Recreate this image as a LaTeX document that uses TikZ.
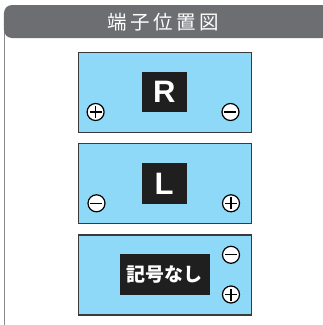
\documentclass[tikz,border=0pt]{standalone}
\usepackage{fontspec}
\setmainfont{Liberation Sans}
\newfontfamily\cjk{Noto Sans CJK JP}
\definecolor{hdr}{HTML}{6D6E71}
\definecolor{batt}{HTML}{8ED8F8}
\definecolor{edge}{HTML}{3A3A3C}
\tikzset{
  battbox/.style={draw=edge, line width=1.2pt, fill=batt, minimum width=173pt, minimum height=80pt, inner sep=0pt},
  label box/.style={fill=black!88, text=white, inner sep=0pt},
  term/.style={circle, draw=black, line width=1.2pt, fill=white, minimum size=17pt, inner sep=0pt},
}
\newcommand{\plussign}[1]{\draw[line width=1.2pt] ([xshift=-6pt]#1.center) -- ([xshift=6pt]#1.center) ([yshift=-6pt]#1.center) -- ([yshift=6pt]#1.center);}
\newcommand{\minussign}[1]{\draw[line width=1.2pt] ([xshift=-6pt]#1.center) -- ([xshift=6pt]#1.center);}
\begin{document}
\begin{tikzpicture}[x=1pt,y=-1pt]
\useasboundingbox (0,0) rectangle (323,325);
\fill[white] (0,0) rectangle (323,325);
% frame
\draw[hdr!80, line width=1.5pt] (4.5,30) -- (4.5,326);
\fill[hdr, rounded corners=8pt] (4,38) -- (4,5) -- (340,5) -- (340,38) -- cycle;
\node[text=white, font=\cjk\fontsize{19.5}{19.5}\selectfont] (title) at (163,22.5) {端\kern3.5pt子\kern3.5pt位\kern3.5pt置\kern3.5pt図};
% battery R
\node[battbox] (b1) at (165,92.3) {};
\node[label box, minimum width=45pt, minimum height=40pt, font=\bfseries\fontsize{31}{31}\selectfont] (r) at (164.2,91.7) {R};
\node[term] (p1) at (95.6,112) {}; \plussign{p1}
\node[term] (m1) at (230.5,112) {}; \minussign{m1}
% battery L
\node[battbox] (b2) at (165,183.5) {};
\node[label box, minimum width=45pt, minimum height=41pt, font=\fontsize{31}{31}\selectfont\bfseries] (l) at (164.2,183.6) {L};
\node[term] (m2) at (96.5,203.3) {}; \minussign{m2}
\node[term] (p2) at (231,203.3) {}; \plussign{p2}
% battery no mark
\node[battbox] (b3) at (165,275) {};
\node[label box, minimum width=90pt, minimum height=41pt, font=\cjk\bfseries\fontsize{19}{19}\selectfont] (n) at (165,274.7) {記号なし};
\node[term] (m3) at (231,254.8) {}; \minussign{m3}
\node[term] (p3) at (231,294.5) {}; \plussign{p3}
\end{tikzpicture}
\end{document}
